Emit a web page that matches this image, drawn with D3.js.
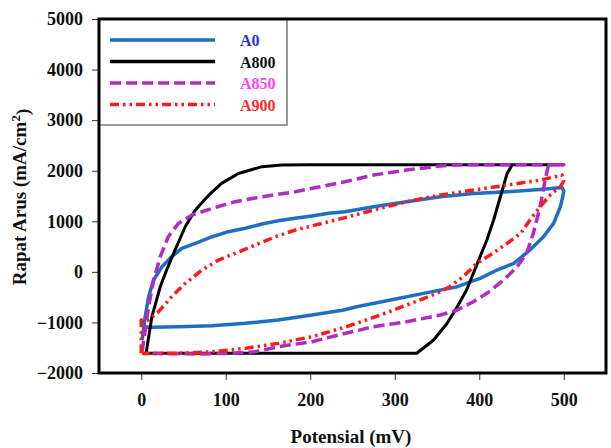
<!DOCTYPE html>
<html>
<head>
<meta charset="utf-8">
<script src="https://cdn.jsdelivr.net/npm/d3@7"></script>
<style>
  body { margin: 0; background: #fff; }
  text { font-family: "Liberation Serif", "Times New Roman", serif; font-weight: bold; }
</style>
</head>
<body>
<div id="chart"></div>
<script>
// Cyclic voltammetry loops: [potential mV, current density mA/cm2]
const a0 = [[1,-1350],[4.7,-887],[8.7,-491],[14.6,-161],[24.5,102],[36,300],[48,465],[64,564],[84,695],[103,794],[123,861],[143,946],[162,1011],[182,1058],[202,1104],[222,1157],[241,1189],[275,1288],[314,1387],[354,1485],[393,1551],[433,1584],[472,1630],[498,1670],[500,1600],[499,1500],[496,1288],[488,958],[476,695],[460,432],[441,169],[421,36],[401,-128],[374,-294],[334,-425],[295,-557],[255,-689],[238,-760],[202,-853],[162,-952],[123,-1017],[84,-1065],[44,-1084],[12,-1097],[3,-1090],[1,-1350]];
const a800 = [[5,-1610],[6,-1580],[12.6,-887],[22.5,-294],[30,36],[40,432],[52,892],[64,1222],[80,1519],[95,1750],[115,1946],[143,2080],[166,2112],[200,2120],[500,2120],[439,2120],[433,1946],[425,1485],[417,1025],[409,630],[401,301],[393,-29],[385,-359],[374,-689],[362,-1017],[346,-1348],[326,-1610],[5,-1610]];
const a850 = [[1,-1580],[4.7,-1150],[8.7,-689],[14.6,-161],[22.5,300],[32,695],[44,958],[60,1124],[84,1256],[111,1387],[143,1485],[182,1584],[222,1717],[241,1782],[275,1914],[314,2013],[354,2093],[380,2120],[500,2120],[482,2120],[478,1815],[472,1288],[464,761],[456,366],[445,102],[429,-161],[409,-425],[393,-590],[374,-755],[354,-854],[314,-986],[275,-1084],[238,-1230],[202,-1381],[162,-1480],[135,-1580],[103,-1612],[64,-1624],[5,-1610]];
const a900 = [[0,-1610],[0,-950],[8.7,-952],[20.5,-788],[36,-491],[52,-227],[72,36],[91.5,234],[111,366],[135,530],[159,695],[182,827],[214,958],[238,1058],[275,1222],[314,1387],[354,1519],[393,1617],[433,1716],[472,1815],[498,1914],[500,1800],[496,1683],[484,1519],[472,1288],[460,1025],[449,761],[433,564],[413,333],[397,169],[381,-96],[365,-294],[350,-425],[314,-656],[283,-854],[255,-1017],[238,-1110],[202,-1282],[162,-1414],[123,-1513],[84,-1580],[44,-1612],[1,-1612]];

const seriesNames = ["A0", "A800", "A850", "A900"];
const xTicks = [0, 100, 200, 300, 400, 500];
const yTicks = [-2000, -1000, 0, 1000, 2000, 3000, 4000, 5000];

const width = 611;
const height = 448;

const svg = d3.select("#chart")
    .append("svg")
    .attr("width", width)
    .attr("height", height);

const x = d3.scaleLinear().domain([-50, 550]).range([99, 606]);
const y = d3.scaleLinear().domain([-2000, 5000]).range([373, 19]);

const styles = {
    "A0":   { data: a0,   color: "#1e6ec4", text: "#2b2be0", width: 3.5, dash: null },
    "A800": { data: a800, color: "#000000", text: "#111111", width: 3,   dash: null },
    "A850": { data: a850, color: "#b02cc4", text: "#ff40ff", width: 3.5, dash: "11,5" },
    "A900": { data: a900, color: "#ff1a1a", text: "#ff2a2a", width: 3.5, dash: "9,4,2.5,4,2.5,4" }
};

// axes (ticks only, frame is drawn separately)
svg.append("g")
    .attr("transform", "translate(99,0)")
    .call(d3.axisLeft(y).tickValues(yTicks).tickSize(7).tickFormat(d3.format("d")))
    .call(g => g.select(".domain").remove())
    .call(g => g.selectAll("text").style("font-size", "18px").attr("fill", "#111").attr("x", -16))
    .call(g => g.selectAll("line").attr("stroke", "#333"));

svg.append("g")
    .attr("transform", "translate(0,373)")
    .call(d3.axisBottom(x).tickValues(xTicks).tickSize(7).tickFormat(d3.format("d")))
    .call(g => g.select(".domain").remove())
    .call(g => g.selectAll("text").style("font-size", "18px").attr("fill", "#111").attr("y", 20))
    .call(g => g.selectAll("line").attr("stroke", "#333"));

const line = d3.line()
    .x(d => x(d[0]))
    .y(d => y(d[1]));

seriesNames.forEach(name => {
    const s = styles[name];
    svg.append("path")
        .datum(s.data)
        .attr("d", line)
        .attr("fill", "none")
        .attr("stroke", s.color)
        .attr("stroke-width", s.width)
        .attr("stroke-linejoin", "round")
        .attr("stroke-dasharray", s.dash);
});

// legend box
svg.append("rect")
    .attr("x", 99)
    .attr("y", 19)
    .attr("width", 188)
    .attr("height", 106)
    .attr("fill", "none")
    .attr("stroke", "#555")
    .attr("stroke-width", 1.2);

seriesNames.forEach((name, i) => {
    const s = styles[name];
    const ly = 40 + i * 21.5;
    svg.append("line")
        .attr("x1", 110).attr("x2", 215)
        .attr("y1", ly).attr("y2", ly)
        .attr("stroke", s.color)
        .attr("stroke-width", 3.5)
        .attr("stroke-dasharray", s.dash);
    svg.append("text")
        .attr("x", 240)
        .attr("y", ly + 6)
        .style("font-size", "16px")
        .attr("fill", s.text)
        .text(name);
});

// plot frame
svg.append("rect")
    .attr("x", 99)
    .attr("y", 19)
    .attr("width", 507)
    .attr("height", 354)
    .attr("fill", "none")
    .attr("stroke", "#000")
    .attr("stroke-width", 3);

// axis titles
svg.append("text")
    .attr("x", 351)
    .attr("y", 443)
    .attr("text-anchor", "middle")
    .style("font-size", "19px")
    .attr("fill", "#111")
    .text("Potensial (mV)");

const yTitle = svg.append("text")
    .attr("transform", "translate(26,197) rotate(-90)")
    .attr("text-anchor", "middle")
    .style("font-size", "19px")
    .attr("fill", "#111");
yTitle.append("tspan").text("Rapat Arus (mA/cm");
yTitle.append("tspan").attr("dy", "-0.45em").style("font-size", "13px").text("2");
yTitle.append("tspan").attr("dy", "0.45em").text(")");
</script>
</body>
</html>
